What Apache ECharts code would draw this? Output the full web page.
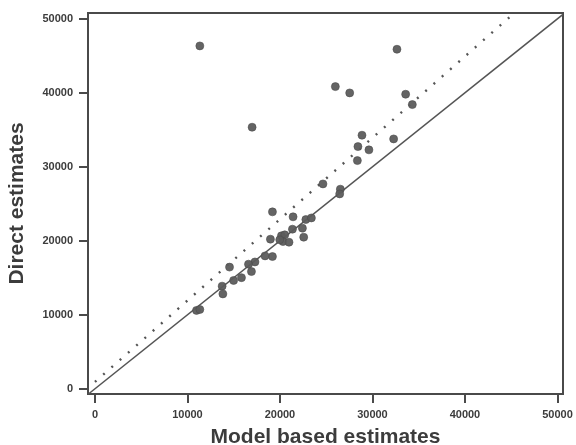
<!DOCTYPE html>
<html>
<head>
<meta charset="utf-8">
<script src="https://cdn.jsdelivr.net/npm/echarts@6/dist/echarts.min.js"></script>
<style>
  html, body { margin: 0; padding: 0; background: #fff; }
  #chart { width: 576px; height: 445px; }
</style>
</head>
<body>
<div id="chart"></div>
<script>
// tick labels on both axes
const tickValues = [0, 10000, 20000, 30000, 40000, 50000]

// [model based estimate, direct estimate]
const points = [
  [11340, 46350], [32650, 45900], [25990, 40850], [27540, 40000],
  [33590, 39820], [34310, 38420], [16990, 35360], [28870, 34280],
  [32290, 33780], [28430, 32740], [29620, 32300], [28370, 30850],
  [24650, 27700], [26530, 26990], [26460, 26350], [19190, 23920],
  [21420, 23250], [22800, 22880], [23400, 23100], [21350, 21580],
  [22430, 21720], [22570, 20500], [18970, 20230], [20160, 20680],
  [20520, 20810], [20330, 19910], [20980, 19820], [19980, 20140],
  [19190, 17880], [18390, 17970], [17300, 17150], [16600, 16850],
  [16920, 15850], [14550, 16450], [15840, 15030], [14990, 14650],
  [13750, 13880], [13830, 12830], [10980, 10600], [11340, 10720]
]

// reference lines
const equalLine = [[-700, -700], [50600, 50600]]
const dottedLine = [[0, 930], [45340, 50800]]

const axisColor = '#4a4a4a'
const textColor = '#3c3c3c'
const font = 'Liberation Sans, Arial, sans-serif'

const chart = echarts.init(document.getElementById('chart'))

const axisCommon = {
  type: 'value',
  nameLocation: 'middle',
  nameTextStyle: { fontFamily: font, fontWeight: 'bold', fontSize: 21, color: textColor },
  splitLine: { show: false },
  axisLine: { show: true, onZero: false, lineStyle: { color: axisColor, width: 2 } },
  axisTick: { show: true, length: 9, customValues: tickValues, lineStyle: { color: axisColor, width: 2 } },
  axisLabel: {
    customValues: tickValues, margin: 15,
    formatter: v => String(v),
    fontFamily: font, fontWeight: 'bold', fontSize: 11, color: textColor
  }
}

chart.setOption({
  animation: false,
  backgroundColor: '#fff',
  grid: {
    left: 88, right: 13, top: 13, bottom: 51,
    containLabel: false, outerBoundsMode: 'none',
    show: true, borderColor: axisColor, borderWidth: 2
  },
  xAxis: Object.assign({}, axisCommon, {
    min: -750, max: 50600,
    name: 'Model based estimates',
    nameGap: 33
  }),
  yAxis: Object.assign({}, axisCommon, {
    min: -700, max: 50800,
    name: 'Direct estimates',
    nameGap: 60
  }),
  series: [
    {
      type: 'line',
      data: equalLine,
      symbol: 'none',
      lineStyle: { color: '#555', width: 1.6 },
      z: 1
    },
    {
      type: 'line',
      data: dottedLine,
      symbol: 'none',
      lineStyle: { color: '#555', width: 2.4, type: [2, 9] },
      z: 1
    },
    {
      type: 'scatter',
      data: points,
      symbolSize: 8,
      itemStyle: { color: '#5c5c5c', borderColor: '#4a4a4a', borderWidth: 0.6, opacity: 0.95 },
      z: 3
    }
  ]
})
</script>
</body>
</html>
